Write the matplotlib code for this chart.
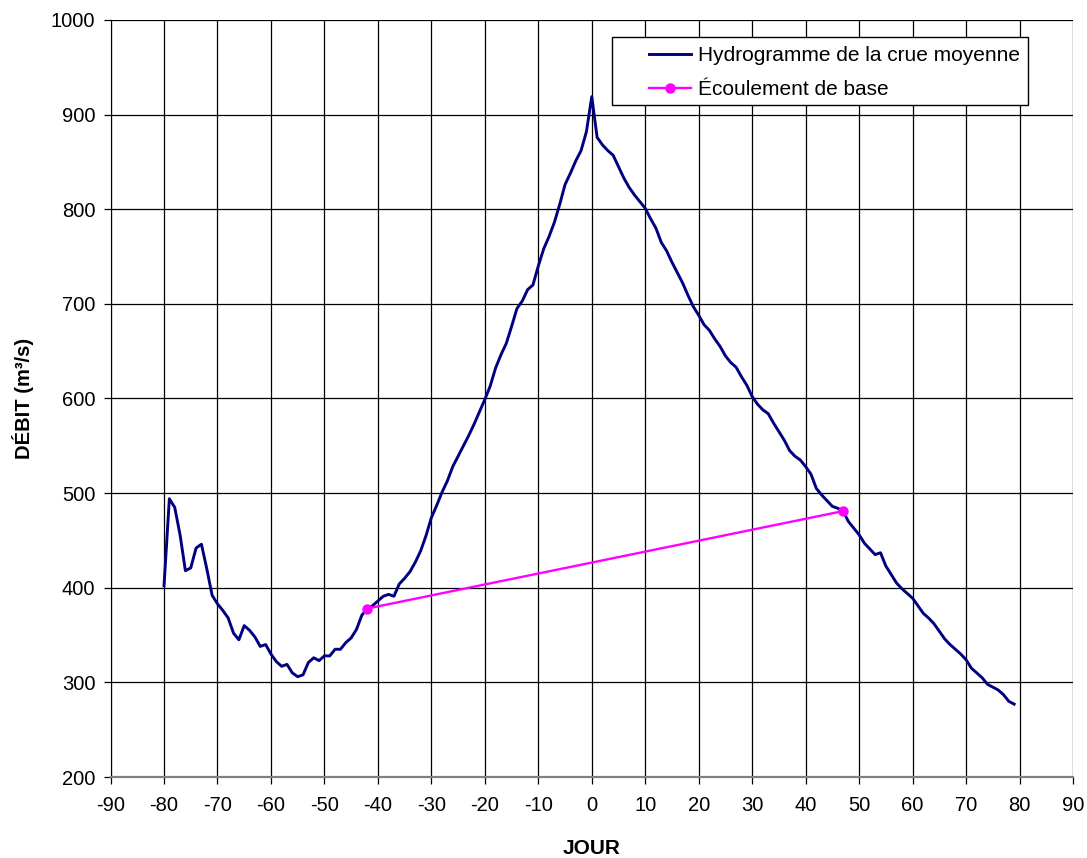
import matplotlib
matplotlib.use("Agg")
import matplotlib.pyplot as plt
from matplotlib.patches import Rectangle
from matplotlib.ticker import MultipleLocator

plt.rcParams["font.family"] = ["Liberation Sans", "DejaVu Sans"]
plt.rcParams["axes.unicode_minus"] = False

# mean flood hydrograph, one value per day
DAYS = list(range(-80, 80))
FLOW = [
    402, 494, 485, 456, 418, 421, 442, 446, 420, 392,
    383, 376, 368, 352, 345, 360, 355, 348, 338, 340,
    330, 322, 317, 319, 310, 306, 308, 321, 326, 323,
    328, 328, 335, 335, 342, 347, 356, 371, 378, 381,
    386, 391, 393, 391, 404, 410, 417, 427, 439, 455,
    474, 487, 501, 513, 528, 539, 550, 561, 573, 586,
    599, 613, 632, 646, 658, 676, 695, 703, 715, 720,
    740, 758, 771, 786, 805, 826, 838, 851, 862, 882,
    919, 876, 868, 862, 857, 845, 833, 823, 815, 808,
    801, 790, 780, 765, 756, 744, 733, 722, 709, 697,
    688, 678, 672, 663, 655, 645, 638, 633, 623, 614,
    602, 594, 588, 584, 574, 565, 556, 545, 539, 535,
    528, 520, 505, 498, 492, 486, 484, 481, 470, 463,
    456, 447, 441, 435, 437, 423, 414, 405, 399, 394,
    389, 381, 373, 368, 362, 354, 346, 340, 335, 330,
    324, 315, 310, 305, 298, 295, 292, 287, 280, 277,
]

# base flow separation line
BASE_DAYS = [-42, 47]
BASE_FLOW = [378, 481]

fig = plt.figure(figsize=(10.87, 8.58), dpi=100)
ax = fig.add_axes([0.1017, 0.0944, 0.8854, 0.8823])

ax.plot(DAYS, FLOW, color="#000080", linewidth=2.1,
        label="Hydrogramme de la crue moyenne", zorder=3)
ax.plot(BASE_DAYS, BASE_FLOW, color="#FF00FF", linewidth=1.7,
        marker="o", markersize=6.5, label="Écoulement de base", zorder=4)

ax.set_xlim(-90, 90)
ax.set_ylim(200, 1000)
ax.xaxis.set_major_locator(MultipleLocator(10))
ax.yaxis.set_major_locator(MultipleLocator(100))
ax.grid(True, color="black", linewidth=0.9)
ax.set_axisbelow(True)

ax.tick_params(axis="both", labelsize=14.5, length=5, width=0.9, color="black")
ax.tick_params(axis="x", pad=9)
ax.tick_params(axis="y", pad=6)
for side in ("top", "right"):
    ax.spines[side].set_visible(False)
ax.spines["left"].set_color("black")
ax.spines["bottom"].set_color("#808080")
ax.spines["bottom"].set_linewidth(1.6)

ax.set_xlabel("JOUR", fontsize=15, fontweight="bold", labelpad=17)
ax.set_ylabel("DÉBIT (m³/s)", fontsize=14.5, fontweight="bold", labelpad=12)

# legend box with a wide left margin
frame = Rectangle((0.563, 0.8776), 0.3827, 0.0793, transform=fig.transFigure,
                  facecolor="white", edgecolor="black", linewidth=1.0,
                  zorder=5, clip_on=False)
ax.add_patch(frame)
leg = ax.legend(loc="upper left", bbox_to_anchor=(0.597, 0.9464),
                bbox_transform=fig.transFigure, fontsize=15, frameon=False,
                handlelength=2.0, handletextpad=0.35, borderpad=0,
                borderaxespad=0, labelspacing=0.74)
leg.set_zorder(6)

fig.savefig("out.png", dpi=100, facecolor="white")
